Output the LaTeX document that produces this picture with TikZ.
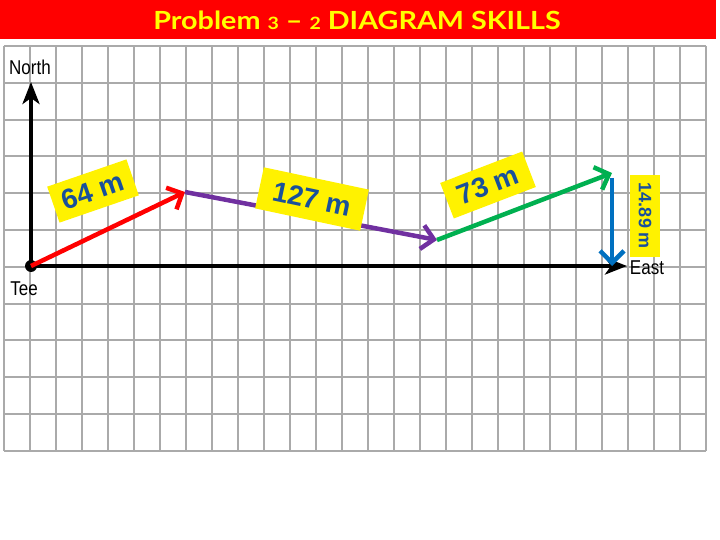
\documentclass[tikz,border=0pt]{standalone}
\usepackage{fontspec}
\setmainfont{Liberation Sans}
\newfontfamily\titlefont{Lato}
\usetikzlibrary{arrows.meta}

\definecolor{titlered}{RGB}{255,0,0}
\definecolor{titleyellow}{RGB}{255,255,0}
\definecolor{gridgray}{RGB}{170,170,170}
\definecolor{vecred}{RGB}{255,0,0}
\definecolor{vecpurple}{RGB}{112,48,160}
\definecolor{vecgreen}{RGB}{0,176,80}
\definecolor{vecblue}{RGB}{0,112,192}
\definecolor{tagblue}{RGB}{25,80,155}

\tikzset{
  gridline/.style={gridgray, line width=2},
  axis/.style={line width=4, -{Stealth[length=22,width=17,inset=6]}},
  vec/.style={line width=4.5, -{Straight Barb[length=12,width=24]}},
  tag/.style={fill=yellow, text=tagblue, inner xsep=10, minimum height=38,
              font=\bfseries\fontsize{28}{28}\selectfont},
  dirlabel/.style={font=\fontsize{20}{20}\selectfont, xscale=0.85, inner sep=1}
}

\begin{document}
\begin{tikzpicture}[x=1pt,y=-1pt]

  \def\gx{4};
  \def\gy{46};
  \def\dx{26};
  \def\dy{36.8};

  \useasboundingbox (0,0) rectangle (720,540);

  %title
  \fill[titlered] (0,0) rectangle (716,39);
  \node[titleyellow, xscale=1.15, font=\titlefont\bfseries\fontsize{25}{25}\selectfont] (title) at (357,20)
       {Problem {\fontsize{17}{17}\selectfont 3} \textendash{} {\fontsize{17}{17}\selectfont 2} DIAGRAM SKILLS};

  %grid
  \foreach \i in {0,...,27}{
       \draw[gridline] (\gx+\i*\dx, \gy) -- (\gx+\i*\dx, \gy+11*\dy);
  }
  \foreach \j in {0,...,11}{
       \draw[gridline] (\gx, \gy+\j*\dy) -- (\gx+27*\dx, \gy+\j*\dy);
  }

  %axes
  \coordinate (O) at (31,266);
  \coordinate (N) at (31,82);
  \coordinate (E) at (627,266);
  \draw[axis] (O) -- (N);
  \draw[axis] (O) -- (E);
  \fill (O) circle[radius=6];

  \node[dirlabel] (north) at (30,67) {North};
  \node[dirlabel] (tee) at (24,289) {Tee};
  \node[dirlabel] (east) at (647,268) {East};

  %vectors
  \coordinate (A) at (185,192);
  \coordinate (B) at (437,240);
  \coordinate (C) at (612,173);
  \coordinate (D) at (612,266);

  \draw[vec, vecred] (O) -- (A);
  \draw[vec, vecpurple] (A) -- (B);
  \draw[vec, vecgreen] (B) -- (C);
  \draw[vec, vecblue, shorten <=5] (C) -- (D);

  %labels
  \node[tag, rotate=19] (t64) at (93,191) {64 m};
  \node[tag, rotate=-12, inner xsep=14, minimum height=42] (t127) at (312,199) {127 m};
  \node[tag, rotate=21, inner xsep=12] (t73) at (488,185) {73 m};
  \node[tag, rotate=-90, inner xsep=8, minimum height=30,
        font=\bfseries\fontsize{18}{18}\selectfont] (t1489) at (645,216) {14.89 m};

\end{tikzpicture}
\end{document}
